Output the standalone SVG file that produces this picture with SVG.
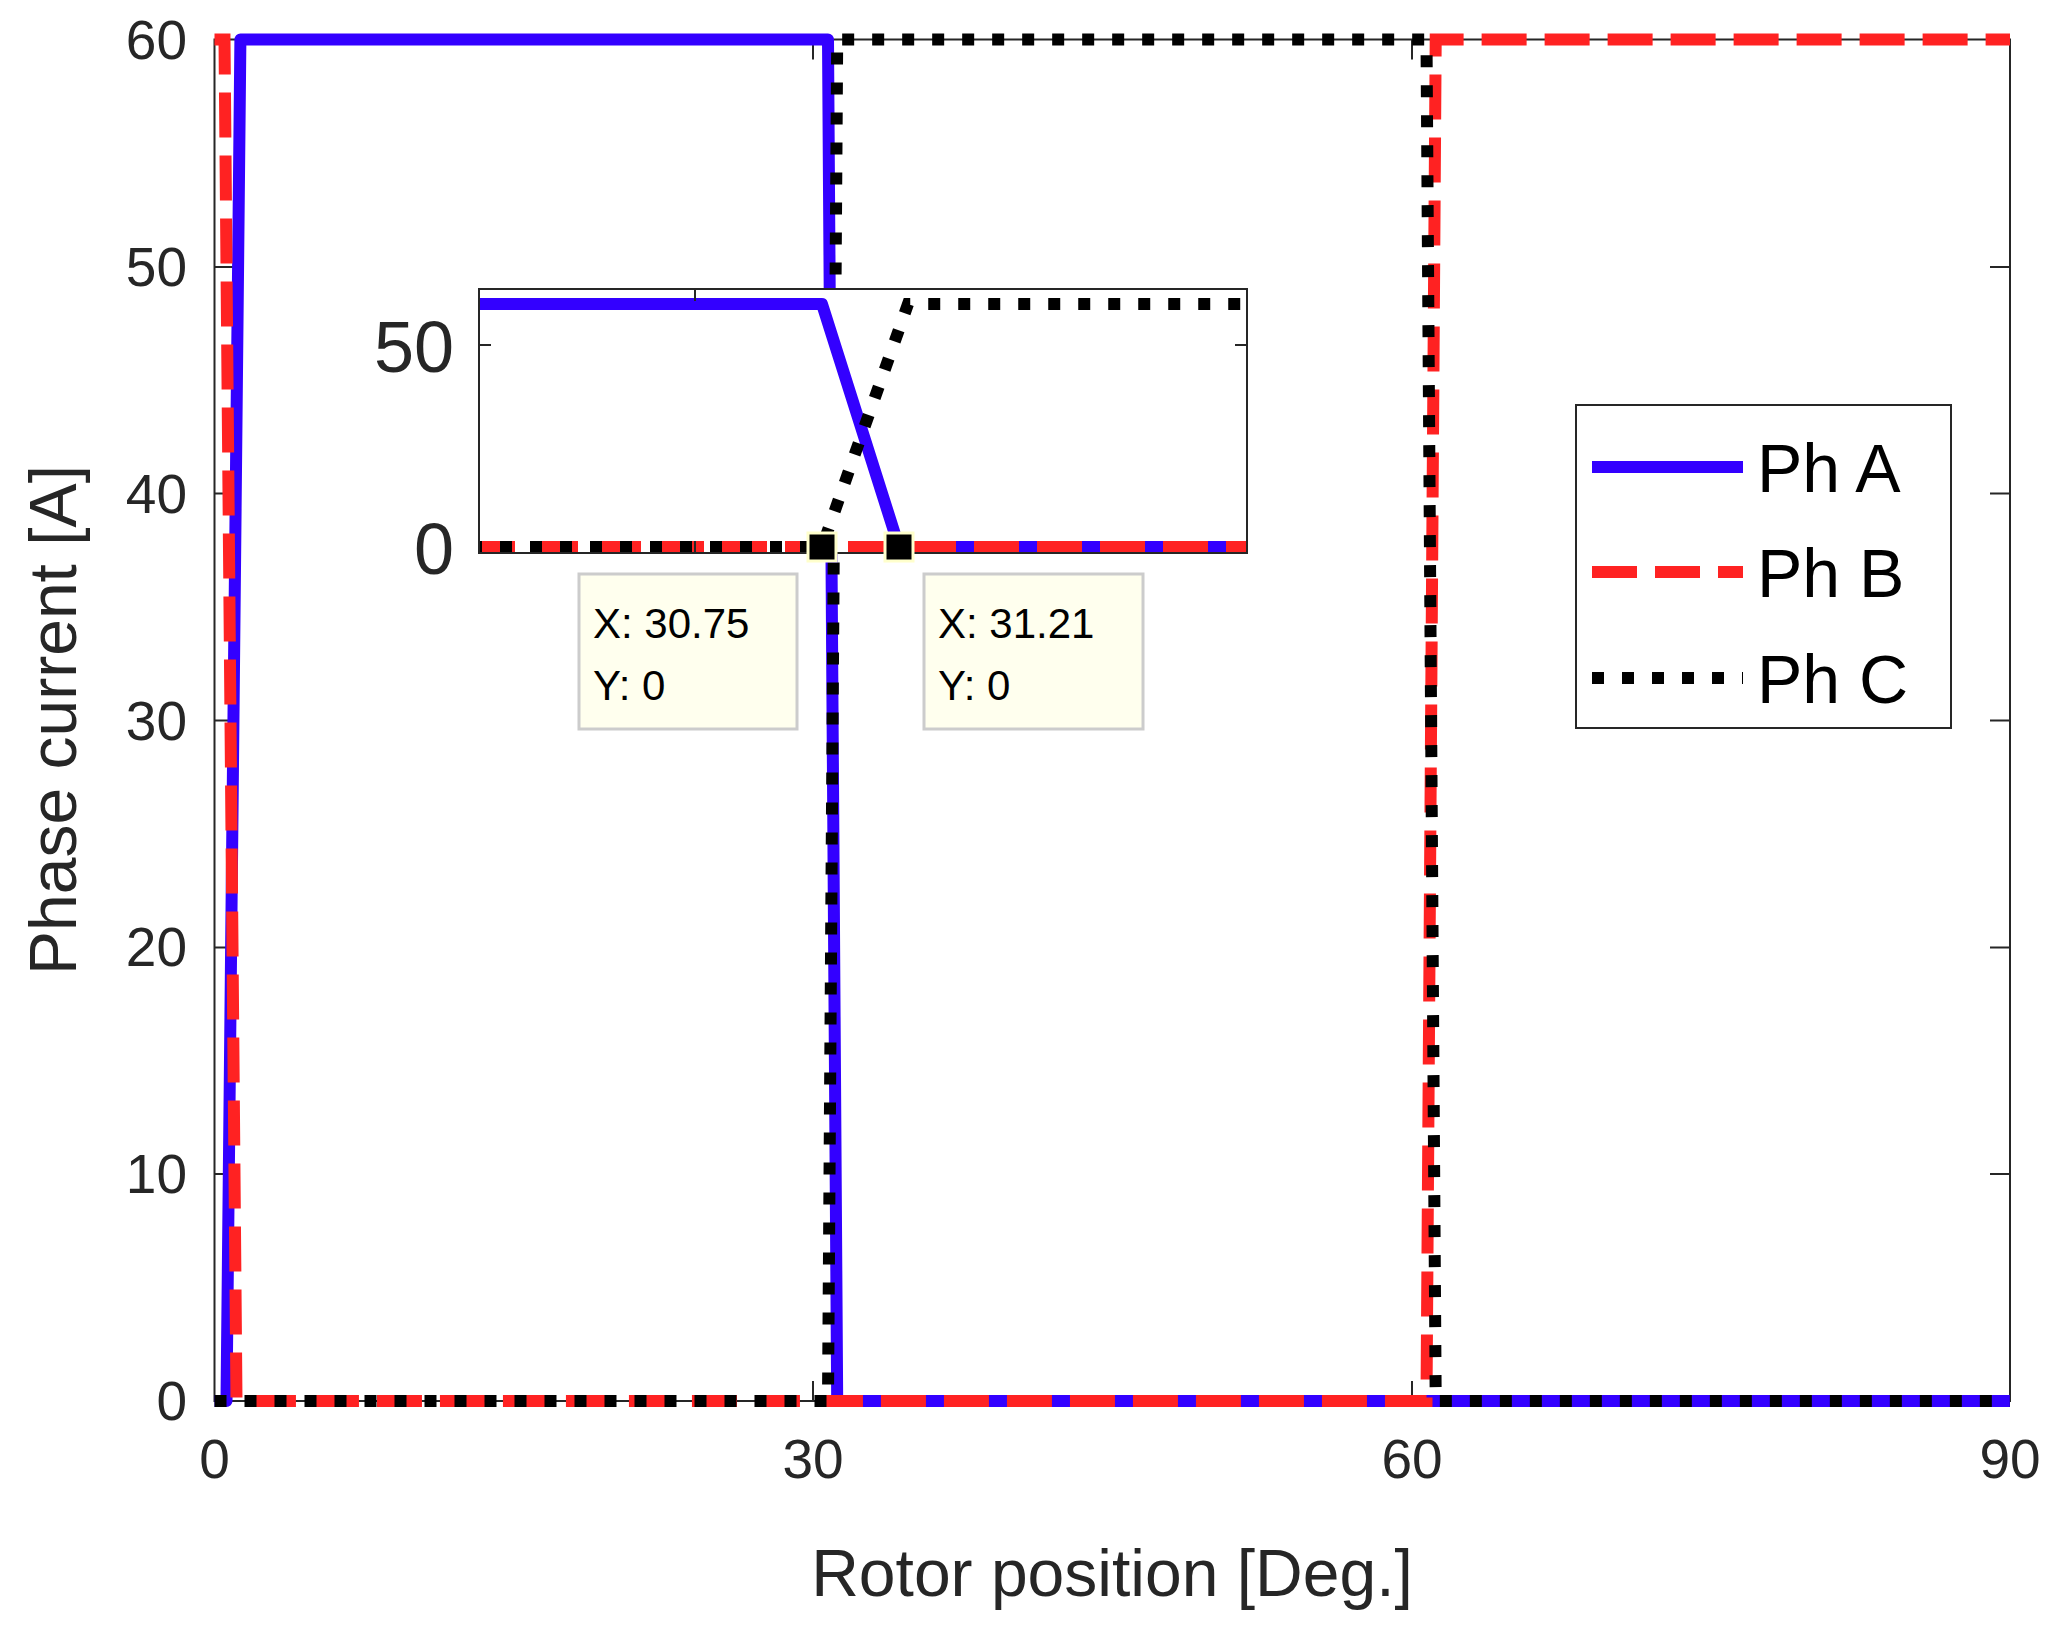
<svg xmlns="http://www.w3.org/2000/svg" width="2063" height="1627" viewBox="0 0 2063 1627">
<style>
text{font-family:"Liberation Sans",Arial,sans-serif;fill:#262626}
.ax{fill:none;stroke:#262626;stroke-width:2}
.a{fill:none;stroke:#3300ff;stroke-width:12;stroke-linejoin:round}
.b{fill:none;stroke:#ff2222;stroke-width:12;stroke-dasharray:45 18}
.c{fill:none;stroke:#000;stroke-width:12;stroke-dasharray:12 18}
.tk{font-size:55px}
.tip{fill:#ffffee;stroke:#cccccc;stroke-width:3}
.tipt{font-size:42px;fill:#000}
</style>
<defs><clipPath id="ic"><rect x="479" y="289" width="768" height="264"/></clipPath></defs>
<rect width="2063" height="1627" fill="#fff"/>
<g id="axes">
<rect class="ax" x="214.5" y="39.5" width="1795.5" height="1361.5"/>
<path class="ax" d="M813 1401v-20M813 39.5v20M1412 1401v-20M1412 39.5v20M214.5 1174h20M214.5 947.5h20M214.5 720.5h20M214.5 493.5h20M214.5 267h20M2010 1174h-20M2010 947.5h-20M2010 720.5h-20M2010 493.5h-20M2010 267h-20"/>
<g class="tk" text-anchor="end">
<text x="187" y="1420">0</text><text x="187" y="1193">10</text><text x="187" y="966">20</text><text x="187" y="740">30</text><text x="187" y="513">40</text><text x="187" y="286">50</text><text x="187" y="59">60</text>
</g>
<g class="tk" text-anchor="middle">
<text x="214.5" y="1478">0</text><text x="813" y="1478">30</text><text x="1412" y="1478">60</text><text x="2010" y="1478">90</text>
</g>
<text x="1112" y="1596" text-anchor="middle" font-size="66">Rotor position [Deg.]</text>
<text transform="translate(76 720) rotate(-90)" text-anchor="middle" font-size="66">Phase current [A]</text>
</g>
<g id="connectors">
<polyline class="a" points="214.5,1401 226.5,1401 240.4,39.5 828,39.5 837.2,1401 2010,1401"/>
<polyline class="b" points="214.5,39.5 224.5,39.5 236.5,1401 1426.5,1401 1435.7,39.5 2010,39.5"/>
<polyline class="c" points="214.5,1401 828,1401 837.2,39.5 1426.5,39.5 1435.7,1401 2010,1401"/>
</g>
<g id="inset">
<rect x="479" y="289" width="768" height="264" fill="#fff"/>
<g clip-path="url(#ic)">
<polyline class="a" points="470,304 822,304 899,547 1260,547"/>
<polyline class="b" points="470,547 1260,547"/>
<polyline class="c" points="470,547 822,547 908,304 1260,304"/>
</g>
<rect class="ax" x="479" y="289" width="768" height="264"/>
<path class="ax" d="M695 553v-12M695 289v12M479 345h12M1247 345h-12"/>
<text x="454" y="372" text-anchor="end" font-size="72">50</text>
<text x="454" y="574" text-anchor="end" font-size="72">0</text>
<rect x="808" y="533" width="28" height="28" fill="#000" stroke="#ffffcc" stroke-width="3"/>
<rect x="885" y="533" width="28" height="28" fill="#000" stroke="#ffffcc" stroke-width="3"/>
</g>
<g id="tip1"><rect class="tip" x="579" y="574" width="218" height="155"/><text class="tipt" x="593" y="638">X: 30.75</text><text class="tipt" x="593" y="700">Y: 0</text></g>
<g id="tip2"><rect class="tip" x="924" y="574" width="219" height="155"/><text class="tipt" x="938" y="638">X: 31.21</text><text class="tipt" x="938" y="700">Y: 0</text></g>
<g id="legend">
<rect x="1576" y="405" width="375" height="323" fill="#fff" stroke="#262626" stroke-width="2"/>
<line class="a" x1="1592" y1="467" x2="1743" y2="467"/>
<line class="b" x1="1592" y1="572" x2="1743" y2="572"/>
<line class="c" x1="1592" y1="678" x2="1743" y2="678"/>
<g font-size="68"><text x="1757" y="492" style="fill:#000">Ph A</text><text x="1757" y="597" style="fill:#000">Ph B</text><text x="1757" y="703" style="fill:#000">Ph C</text></g>
</g>
</svg>
